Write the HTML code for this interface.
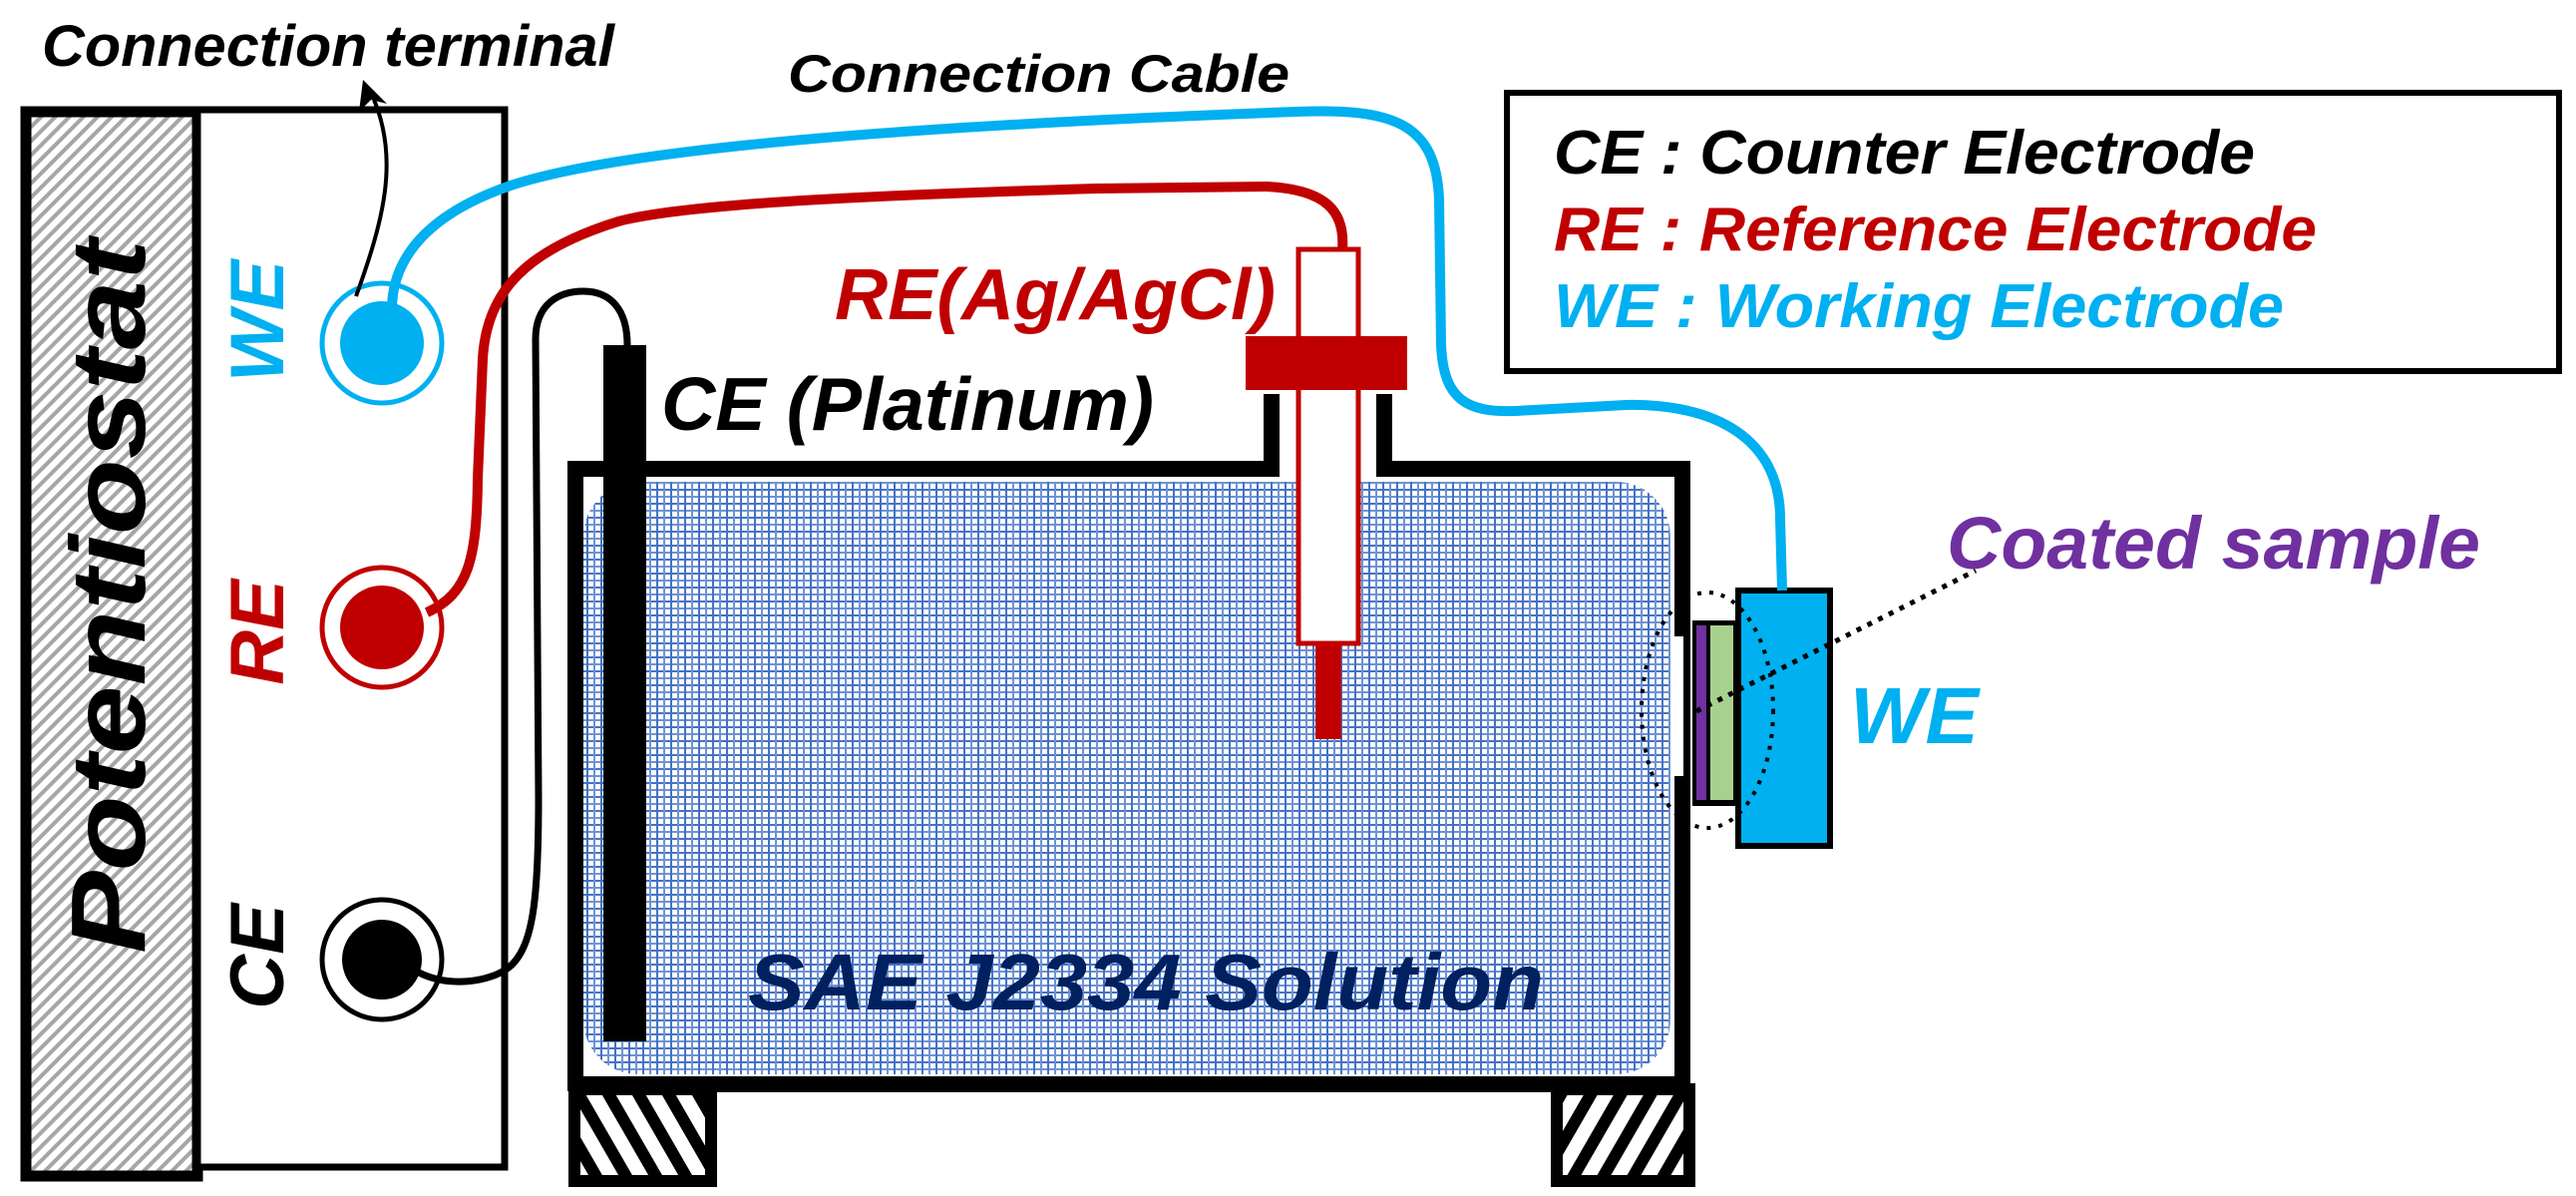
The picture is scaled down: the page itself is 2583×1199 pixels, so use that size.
<!DOCTYPE html>
<html><head><meta charset="utf-8"><style>
html,body{margin:0;padding:0;background:#fff}
svg{display:block}
text{font-family:"Liberation Sans",Arial,sans-serif;font-weight:bold;font-style:italic}
</style></head><body>
<svg width="2583" height="1199" viewBox="0 0 2583 1199" xmlns="http://www.w3.org/2000/svg">
<defs>
<pattern id="hg" width="10" height="10" patternUnits="userSpaceOnUse" patternTransform="rotate(45)">
<rect width="10" height="10" fill="#fff"/><rect x="0" y="0" width="4" height="10" fill="#a6a6a6"/></pattern>
<pattern id="hb1" width="26" height="26" patternUnits="userSpaceOnUse" patternTransform="rotate(-30)">
<rect width="26" height="26" fill="#fff"/><rect x="0" y="0" width="12" height="26" fill="#000"/></pattern>
<pattern id="hb2" width="26" height="26" patternUnits="userSpaceOnUse" patternTransform="rotate(30)">
<rect width="26" height="26" fill="#fff"/><rect x="0" y="0" width="12" height="26" fill="#000"/></pattern>
<pattern id="sol" width="14" height="14" patternUnits="userSpaceOnUse">
<rect width="14" height="14" fill="#fff"/>
<rect x="0" y="0" width="14" height="2" fill="#4472c4"/>
<rect x="0" y="7" width="14" height="2" fill="#6f93d4"/>
<rect x="0" y="0" width="2" height="14" fill="#4472c4"/>
<rect x="7" y="0" width="2" height="14" fill="#6f93d4"/>
</pattern>
</defs>

<!-- Potentiostat -->
<rect x="26" y="112" width="172" height="1067" fill="url(#hg)" stroke="#000" stroke-width="11"/>
<rect x="198" y="110" width="308" height="1060" fill="#fff" stroke="#000" stroke-width="7"/>
<text transform="translate(145,598) rotate(-90)" font-size="106" text-anchor="middle" fill="#000" textLength="716" lengthAdjust="spacingAndGlyphs">Potentiostat</text>

<text transform="translate(284,322) rotate(-90)" font-size="76" text-anchor="middle" fill="#00b0f0">WE</text>
<text transform="translate(284,634) rotate(-90)" font-size="76" text-anchor="middle" fill="#c00000">RE</text>
<text transform="translate(284,959) rotate(-90)" font-size="76" text-anchor="middle" fill="#000">CE</text>

<!-- terminals -->
<circle cx="383" cy="344" r="60" fill="#fff" stroke="#00b0f0" stroke-width="5"/>
<circle cx="383" cy="344" r="42" fill="#00b0f0"/>
<circle cx="383" cy="629" r="60" fill="#fff" stroke="#c00000" stroke-width="5"/>
<circle cx="383" cy="629" r="42" fill="#c00000"/>
<circle cx="383" cy="962" r="60" fill="#fff" stroke="#000" stroke-width="5"/>
<circle cx="383" cy="962" r="40" fill="#000"/>

<!-- Connection terminal -->
<text x="42" y="66" font-size="58" fill="#000" textLength="574" lengthAdjust="spacingAndGlyphs">Connection terminal</text>
<path d="M357 297 C 385 220, 400 160, 375 100" fill="none" stroke="#000" stroke-width="4"/>
<polygon points="364,80 388,104 372,100 360,112" fill="#000"/>
<text x="790" y="92" font-size="53" fill="#000" textLength="503" lengthAdjust="spacingAndGlyphs">Connection Cable</text>

<!-- Cell -->
<rect x="585" y="483" width="1090" height="594" rx="55" fill="url(#sol)"/>
<path d="M577 1094 L577 470 L1275 470 L1275 395 M1388 395 L1388 470 L1687 470 L1687 1087 L577 1087" fill="none" stroke="#000" stroke-width="16"/>
<rect x="576" y="1092" width="137" height="92" fill="url(#hb1)" stroke="#000" stroke-width="12"/>
<rect x="1561" y="1092" width="133" height="92" fill="url(#hb2)" stroke="#000" stroke-width="12"/>
<text x="750" y="1012" font-size="80" fill="#002060" textLength="798" lengthAdjust="spacingAndGlyphs">SAE J2334 Solution</text>

<!-- CE rod -->
<rect x="605" y="346" width="43" height="698" fill="#000"/>
<text x="663" y="431" font-size="75" fill="#000" textLength="494" lengthAdjust="spacingAndGlyphs">CE (Platinum)</text>

<!-- RE electrode -->
<rect x="1302" y="250" width="60" height="395" fill="#fff" stroke="#c00000" stroke-width="5"/>
<rect x="1249" y="337" width="162" height="54" fill="#c00000"/>
<rect x="1319" y="645" width="26" height="96" fill="#c00000"/>
<text x="837" y="320" font-size="72" fill="#c00000" textLength="442" lengthAdjust="spacingAndGlyphs">RE(Ag/AgCl)</text>

<!-- sample & WE -->
<rect x="1678" y="638" width="10" height="140" fill="#fff"/>
<rect x="1696" y="593" width="44" height="237" fill="#fff"/>
<rect x="1697" y="622" width="43" height="186" fill="#000"/>
<rect x="1701" y="627" width="10" height="175" fill="#7030a0"/>
<rect x="1715" y="627" width="23" height="175" fill="#a9d18e"/>
<rect x="1743" y="592" width="92" height="256" fill="#00b0f0" stroke="#000" stroke-width="6"/>
<ellipse cx="1712" cy="712" rx="66" ry="118" fill="none" stroke="#000" stroke-width="4" stroke-dasharray="4 8"/>
<path d="M1701 713 L1981 572" fill="none" stroke="#000" stroke-width="5" stroke-dasharray="5 7"/>
<text x="1855" y="745" font-size="80" fill="#00b0f0">WE</text>
<text x="1952" y="570" font-size="74" fill="#7030a0" textLength="535" lengthAdjust="spacingAndGlyphs">Coated sample</text>

<!-- cables -->
<path d="M420 975 C 450 990, 490 985, 510 970 C 535 950, 540 900, 540 800 L 537 340 C 537 305, 560 292, 585 292 C 612 292, 629 310, 629 346" fill="none" stroke="#000" stroke-width="7"/>
<path d="M428 614 C 470 595, 478 560, 479 480 L 484 360 C 488 290, 530 250, 620 222 C 690 203, 900 195, 1100 189 L 1270 187 C 1330 190, 1349 212, 1346 250" fill="none" stroke="#c00000" stroke-width="10"/>
<path d="M393 310 C 393 262, 425 215, 515 185 C 600 158, 800 130, 1300 112 C 1400 108, 1440 125, 1443 200 L 1445 345 C 1447 400, 1470 414, 1520 412 L 1630 406 C 1720 404, 1785 440, 1785 520 L 1787 592" fill="none" stroke="#00b0f0" stroke-width="10"/>

<!-- legend -->
<rect x="1511" y="93" width="1055" height="279" fill="none" stroke="#000" stroke-width="6"/>
<text x="1558" y="174" font-size="62" fill="#000" textLength="703" lengthAdjust="spacingAndGlyphs">CE : Counter Electrode</text>
<text x="1558" y="251" font-size="62" fill="#c00000" textLength="765" lengthAdjust="spacingAndGlyphs">RE : Reference Electrode</text>
<text x="1558" y="328" font-size="62" fill="#00b0f0" textLength="732" lengthAdjust="spacingAndGlyphs">WE : Working Electrode</text>
</svg>
</body></html>
